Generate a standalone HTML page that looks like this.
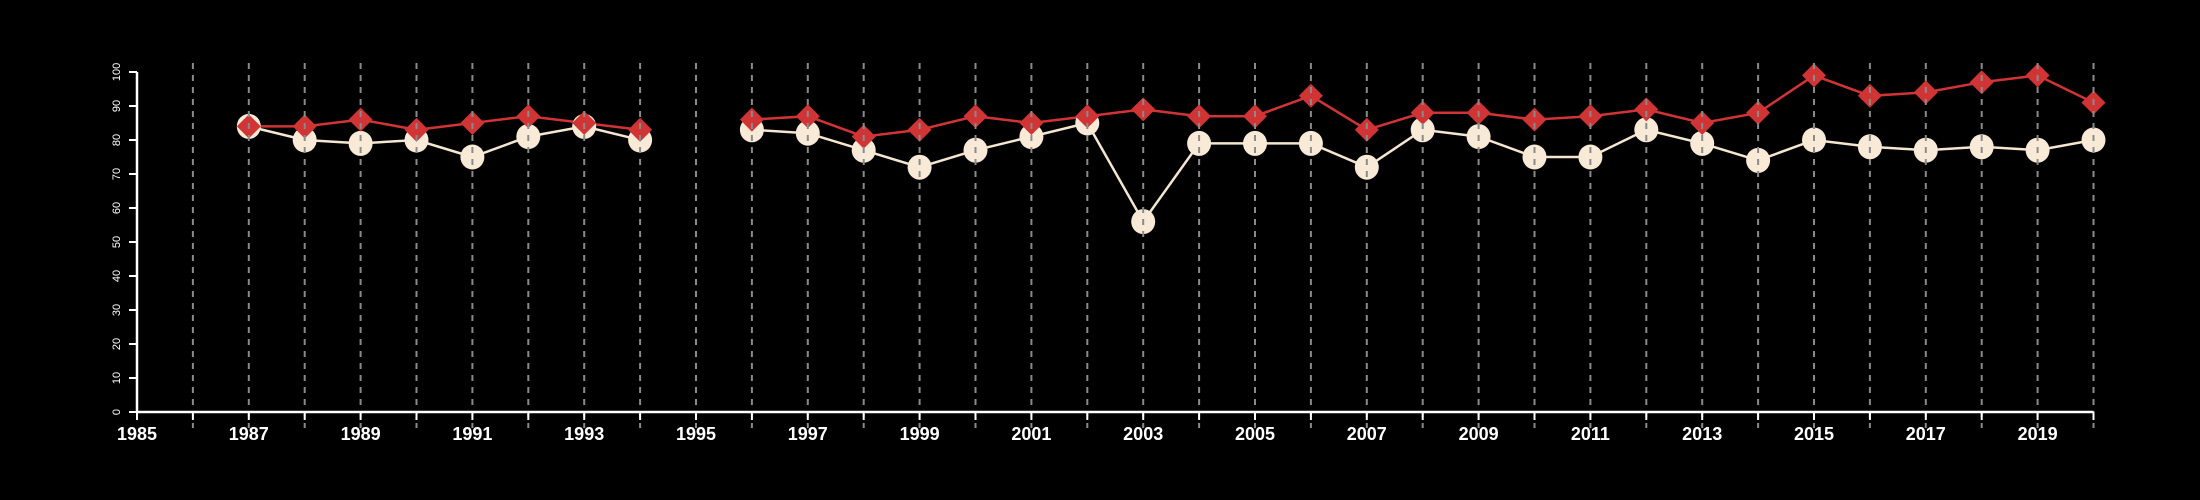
<!DOCTYPE html>
<html><head><meta charset="utf-8"><style>
html,body{margin:0;padding:0;background:#000;}
svg{display:block;font-family:"Liberation Sans",sans-serif;}
</style></head><body>
<svg id="chart" width="2200" height="500" viewBox="0 0 2200 500" xmlns="http://www.w3.org/2000/svg">
<rect width="2200" height="500" fill="#000"/>
<g id="series"></g>
<g id="grid"></g>
<g id="axes"></g>
</svg>
<script>
const years = [1987,1988,1989,1990,1991,1992,1993,1994,1995,1996,1997,1998,1999,2000,2001,2002,2003,2004,2005,2006,2007,2008,2009,2010,2011,2012,2013,2014,2015,2016,2017,2018,2019,2020];
const redValues = [84,84,86,83,85,87,85,83,null,86,87,81,83,87,85,87,89,87,87,93,83,88,88,86,87,89,85,88,99,93,94,97,99,91];
const creamValues = [84,80,79,80,75,81,84,80,null,83,82,77,72,77,81,85,56,79,79,79,72,83,81,75,75,83,79,74,80,78,77,78,77,80];
const yTicks = [0,10,20,30,40,50,60,70,80,90,100];
const xLabels = [1985,1987,1989,1991,1993,1995,1997,1999,2001,2003,2005,2007,2009,2011,2013,2015,2017,2019];

const NS = "http://www.w3.org/2000/svg";
const x = yr => 137 + (yr - 1985) * 55.9;
const y = v => 412 - v * 3.4;
function mk(tag, attrs, parent){const e=document.createElementNS(NS,tag);for(const k in attrs)e.setAttribute(k,attrs[k]);parent.appendChild(e);return e;}
const gS=document.getElementById('series'), gG=document.getElementById('grid'), gA=document.getElementById('axes');

// grid
for(let yr=1986; yr<=2020; yr++){
  const l=mk('line',{x1:x(yr),x2:x(yr),y1:63,y2:428,stroke:'#8a8a8a','stroke-width':2,'stroke-dasharray':'6,6'},gG);
  
  
}

function drawLine(vals,color,w,name){
  let seg=[];
  const flush=()=>{ if(seg.length>1){const p=mk('polyline',{points:seg.join(' '),fill:'none',stroke:color,'stroke-width':w},gS);
    
    } seg=[]; };
  vals.forEach((v,i)=>{ if(v==null){flush();} else seg.push(x(years[i])+','+y(v)); });
  flush();
}
drawLine(creamValues,'#f5e6d0',2.5,'cream-series-line');
drawLine(redValues,'#d03434',2.5,'red-series-line');
creamValues.forEach((v,i)=>{ if(v==null)return;
  const c=mk('ellipse',{cx:x(years[i]),cy:y(v),rx:12,ry:12.5,fill:'#f8ead6'},gS);
  
  
});
redValues.forEach((v,i)=>{ if(v==null)return;
  const cx=x(years[i]), cy=y(v), s=12;
  const d=mk('polygon',{points:`${cx},${cy-s} ${cx+s},${cy} ${cx},${cy+s} ${cx-s},${cy}`,fill:'#d03434'},gS);
  
  
});

// axes
const xa=mk('line',{x1:x(1985),x2:x(2020),y1:412,y2:412,stroke:'#fff','stroke-width':2.5},gA);


for(let yr=1985; yr<=2020; yr++){
  const t=mk('line',{x1:x(yr),x2:x(yr),y1:412,y2:420,stroke:'#fff','stroke-width':2},gA);
  
  
}
xLabels.forEach(yr=>{
  const t=mk('text',{x:x(yr),y:440,fill:'#fff','font-size':18,'font-weight':'bold','text-anchor':'middle'},gA);
  t.textContent=yr;
  
  
});
const ya=mk('line',{x1:137,x2:137,y1:y(100),y2:y(0),stroke:'#fff','stroke-width':2.5},gA);


yTicks.forEach(v=>{
  const t=mk('line',{x1:129,x2:137,y1:y(v),y2:y(v),stroke:'#fff','stroke-width':2},gA);
  
  
  const lb=mk('text',{x:0,y:0,fill:'#fff','font-size':11,'text-anchor':'middle',transform:`translate(120,${y(v)}) rotate(-90)`},gA);
  lb.textContent=v;
  
  
});
</script>
</body></html>
